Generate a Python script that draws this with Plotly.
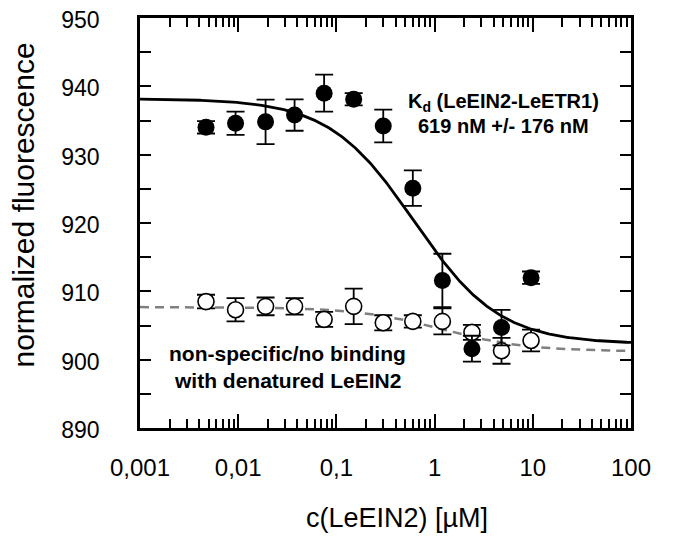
import numpy as np
import plotly.graph_objects as go

# ---- data ----
conc_uM = [0.0047, 0.0094, 0.019, 0.0375, 0.075, 0.15, 0.3, 0.6, 1.2, 2.4, 4.8, 9.6]

native_fluor = [934.0, 934.6, 934.8, 935.8, 939.0, 938.1, 934.2, 925.1, 911.6, 901.6, 904.7, 912.0]
native_err = [0.9, 1.7, 3.25, 2.3, 2.7, 0.9, 2.4, 2.6, 3.9, 1.9, 2.6, 0.9]

denat_fluor = [908.5, 907.3, 907.8, 907.8, 905.9, 907.8, 905.4, 905.6, 905.6, 904.0, 901.3, 902.8]
denat_err = [1.0, 1.7, 1.3, 1.2, 1.1, 2.6, 1.1, 0.9, 1.9, 1.1, 1.9, 1.6]

# fit parameters (single-site binding model)
fit_native = dict(top=938.2, bottom=902.3, kd=0.619)
fit_denat = dict(top=907.7, bottom=901.2, kd=1.2)

x_tick_vals = [0.001, 0.01, 0.1, 1, 10, 100]
x_tick_text = ["0,001", "0,01", "0,1", "1", "10", "100"]
y_tick_vals = [890, 900, 910, 920, 930, 940, 950]

FONT = "Arial, Liberation Sans, sans-serif"

def binding_curve(x, top, bottom, kd):
    return bottom + (top - bottom) / (1 + x / kd)

x_fit = np.logspace(-3, 2, 400)

fig = go.Figure()

fig.add_trace(go.Scatter(
    x=x_fit, y=binding_curve(x_fit, **fit_denat), mode="lines",
    line=dict(color="#808080", width=2.5, dash="9px,6px"),
    hoverinfo="skip", showlegend=False))

fig.add_trace(go.Scatter(
    x=x_fit, y=binding_curve(x_fit, **fit_native), mode="lines",
    line=dict(color="black", width=2.8),
    hoverinfo="skip", showlegend=False))

fig.add_trace(go.Scatter(
    x=conc_uM, y=denat_fluor, mode="markers", name="denatured LeEIN2",
    marker=dict(size=16, color="white", line=dict(color="black", width=1.6)),
    error_y=dict(type="data", array=denat_err, color="black", thickness=1.8, width=9),
    showlegend=False))

fig.add_trace(go.Scatter(
    x=conc_uM, y=native_fluor, mode="markers", name="LeEIN2",
    marker=dict(size=17, color="black", line=dict(color="black", width=0)),
    error_y=dict(type="data", array=native_err, color="black", thickness=1.8, width=9),
    showlegend=False))

minor_x = [m * 10.0 ** e for e in range(-3, 2) for m in range(2, 10)]

fig.update_xaxes(
    type="log", range=[-3, 2],
    tickvals=x_tick_vals, ticktext=x_tick_text,
    ticks="inside", ticklen=14, tickwidth=2, tickcolor="black",
    minor=dict(tickvals=minor_x, ticks="inside", ticklen=9, tickwidth=2, tickcolor="black"),
    showline=True, linewidth=2.8, linecolor="black", mirror="ticks",
    showgrid=False, zeroline=False,
    tickfont=dict(family=FONT, size=24, color="black"),
    ticklabelstandoff=16, ticklabeloverflow="allow",
)

fig.update_yaxes(
    range=[890, 950], tickvals=y_tick_vals,
    ticks="inside", ticklen=11, tickwidth=2, tickcolor="black",
    minor=dict(dtick=5, ticks="inside", ticklen=11, tickwidth=2, tickcolor="black"),
    showline=True, linewidth=2.8, linecolor="black", mirror="ticks",
    showgrid=False, zeroline=False,
    tickfont=dict(family=FONT, size=23, color="black"),
    ticklabelstandoff=33, ticklabelshift=2, ticklabeloverflow="allow",
)

# axis titles (placed as annotations to match the reference positions)
fig.add_annotation(
    x=0.5234, y=-0.2195, xref="paper", yref="paper",
    text="c(LeEIN2) [µM]", showarrow=False,
    xanchor="center", yanchor="middle",
    font=dict(family=FONT, size=27, color="black"))

fig.add_annotation(
    x=-0.238, y=0.543, xref="paper", yref="paper",
    text="normalized fluorescence", showarrow=False, textangle=-90,
    xanchor="center", yanchor="middle",
    font=dict(family=FONT, size=30, color="black"))

# in-plot labels
labels = [
    ("<b>K<sub>d</sub> (LeEIN2-LeETR1)</b>", 0.741, 95, 20),
    ("<b>619 nM +/- 176 nM</b>", 0.741, 118, 20),
    ("<b>non-specific/no binding</b>", 0.301, 345, 21),
    ("<b>with denatured LeEIN2</b>", 0.301, 372, 21),
]
for txt, xp, ypx, fs in labels:
    fig.add_annotation(
        x=xp, y=(420 - ypx) / 410, xref="paper", yref="paper",
        text=txt, showarrow=False, xanchor="center", yanchor="middle",
        font=dict(family=FONT, size=fs, color="black"))

fig.update_layout(
    width=675, height=537,
    margin=dict(l=132, r=52, t=10, b=117, autoexpand=False),
    paper_bgcolor="white", plot_bgcolor="white",
    font=dict(family=FONT, color="black"),
)

fig.write_html("out.html")
